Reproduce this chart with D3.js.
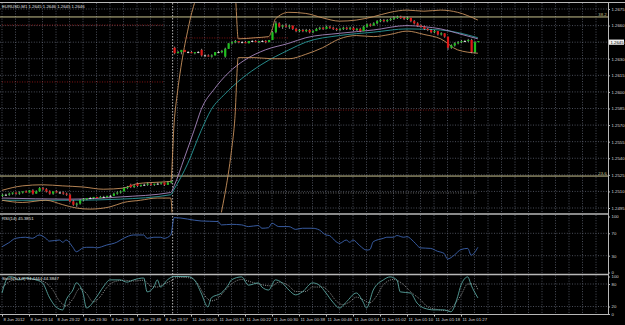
<!DOCTYPE html>
<html><head><meta charset="utf-8">
<script src="https://cdn.jsdelivr.net/npm/d3@7"></script>
<style>
html,body{margin:0;padding:0;background:#000;}
svg{display:block;}
text{font-family:"Liberation Sans",Arial,sans-serif;}
</style></head><body>
<svg id="chart" width="625" height="325"></svg>
<script>
// friday 8 Jun bars (index 0-50) and monday 11 Jun bars (index 51-141): [open, high, low, close]
const fridayBars = [
  [1.2506,1.2508,1.2505,1.2507],[1.2507,1.2508,1.2506,1.2507],[1.2507,1.2509,1.2506,1.2508],[1.2508,1.2509,1.2507,1.2509],
  [1.2509,1.2509,1.2507,1.2508],[1.2508,1.2510,1.2507,1.2509],[1.2509,1.2510,1.2508,1.2510],[1.2510,1.2511,1.2509,1.2509],
  [1.2509,1.2511,1.2509,1.2511],[1.2511,1.2512,1.2507,1.2508],[1.2508,1.2511,1.2508,1.2510],[1.2510,1.2514,1.2510,1.2513],
  [1.2513,1.2514,1.2511,1.2512],[1.2512,1.2513,1.2509,1.2510],[1.2510,1.2511,1.2507,1.2508],[1.2508,1.2510,1.2507,1.2510],
  [1.2510,1.2511,1.2509,1.2509],[1.2509,1.2510,1.2508,1.2509],[1.2509,1.2510,1.2507,1.2508],[1.2508,1.2509,1.2506,1.2507],
  [1.2507,1.2508,1.2500,1.2501],[1.2501,1.2502,1.2497,1.2498],[1.2498,1.2500,1.2496,1.2499],[1.2499,1.2503,1.2498,1.2502],
  [1.2502,1.2504,1.2501,1.2503],[1.2503,1.2504,1.2502,1.2504],[1.2504,1.2505,1.2503,1.2504],[1.2504,1.2505,1.2503,1.2505],
  [1.2505,1.2505,1.2504,1.2504],[1.2504,1.2506,1.2504,1.2505],[1.2505,1.2506,1.2504,1.2505],[1.2505,1.2506,1.2504,1.2506],
  [1.2506,1.2507,1.2505,1.2506],[1.2506,1.2509,1.2506,1.2508],[1.2508,1.2510,1.2507,1.2509],[1.2509,1.2511,1.2508,1.2510],
  [1.2510,1.2514,1.2510,1.2513],[1.2513,1.2515,1.2512,1.2514],[1.2516,1.2517,1.2513,1.2514],[1.2514,1.2516,1.2513,1.2515],
  [1.2517,1.2518,1.2514,1.2515],[1.2515,1.2516,1.2514,1.2516],[1.2516,1.2517,1.2515,1.2516],[1.2516,1.2518,1.2515,1.2517],
  [1.2517,1.2518,1.2515,1.2516],[1.2516,1.2517,1.2515,1.2517],[1.2517,1.2518,1.2516,1.2517],[1.2517,1.2518,1.2516,1.2518],
  [1.2518,1.2518,1.2515,1.2516],[1.2516,1.2519,1.2516,1.2518],[1.2518,1.2520,1.2517,1.2519]
]
const mondayBars = [
  [1.2640,1.2641,1.2634,1.2635],[1.2635,1.2637,1.2635,1.2636],[1.2636,1.2638,1.2634,1.2638],[1.2638,1.2638,1.2636,1.2636],
  [1.2636,1.2637,1.2635,1.2636],[1.2636,1.2637,1.2635,1.2635],[1.2635,1.2636,1.2634,1.2636],[1.2636,1.2637,1.2635,1.2636],
  [1.2638,1.2639,1.2632,1.2633],[1.2633,1.2634,1.2632,1.2633],[1.2633,1.2634,1.2632,1.2632],[1.2632,1.2634,1.2631,1.2633],
  [1.2633,1.2636,1.2633,1.2636],[1.2636,1.2637,1.2635,1.2636],[1.2636,1.2638,1.2635,1.2637],[1.2632,1.2640,1.2631,1.2639],
  [1.2639,1.2644,1.2639,1.2644],[1.2644,1.2646,1.2643,1.2645],[1.2645,1.2647,1.2644,1.2646],[1.2646,1.2646,1.2644,1.2645],
  [1.2645,1.2646,1.2644,1.2645],[1.2645,1.2646,1.2644,1.2644],[1.2644,1.2646,1.2644,1.2646],[1.2646,1.2647,1.2645,1.2646],
  [1.2646,1.2647,1.2645,1.2645],[1.2645,1.2646,1.2644,1.2646],[1.2646,1.2647,1.2645,1.2646],[1.2646,1.2647,1.2644,1.2645],
  [1.2645,1.2647,1.2645,1.2647],[1.2647,1.2655,1.2647,1.2654],[1.2654,1.2664,1.2653,1.2662],[1.2662,1.2663,1.2658,1.2659],
  [1.2659,1.2661,1.2657,1.2660],[1.2660,1.2662,1.2658,1.2659],[1.2659,1.2661,1.2657,1.2660],[1.2660,1.2660,1.2656,1.2657],
  [1.2657,1.2658,1.2654,1.2655],[1.2655,1.2657,1.2654,1.2656],[1.2656,1.2657,1.2654,1.2655],[1.2655,1.2657,1.2654,1.2656],
  [1.2656,1.2657,1.2653,1.2654],[1.2654,1.2656,1.2653,1.2655],[1.2655,1.2658,1.2655,1.2657],[1.2657,1.2659,1.2656,1.2658],
  [1.2658,1.2659,1.2656,1.2657],[1.2657,1.2660,1.2657,1.2659],[1.2659,1.2660,1.2657,1.2658],[1.2658,1.2659,1.2656,1.2657],
  [1.2657,1.2658,1.2655,1.2656],[1.2656,1.2658,1.2655,1.2657],[1.2657,1.2659,1.2656,1.2658],[1.2658,1.2659,1.2656,1.2657],
  [1.2657,1.2659,1.2656,1.2658],[1.2658,1.2659,1.2655,1.2656],[1.2656,1.2658,1.2655,1.2657],[1.2657,1.2658,1.2654,1.2655],
  [1.2655,1.2660,1.2655,1.2659],[1.2659,1.2662,1.2658,1.2661],[1.2661,1.2662,1.2659,1.2660],[1.2660,1.2663,1.2660,1.2662],
  [1.2662,1.2665,1.2661,1.2664],[1.2664,1.2666,1.2663,1.2665],[1.2665,1.2666,1.2663,1.2664],[1.2664,1.2666,1.2663,1.2665],
  [1.2665,1.2667,1.2664,1.2666],[1.2666,1.2668,1.2665,1.2667],[1.2667,1.2669,1.2666,1.2668],[1.2668,1.2669,1.2666,1.2667],
  [1.2667,1.2668,1.2665,1.2666],[1.2666,1.2668,1.2665,1.2667],[1.2667,1.2667,1.2663,1.2664],[1.2664,1.2665,1.2661,1.2662],
  [1.2662,1.2663,1.2659,1.2660],[1.2660,1.2661,1.2658,1.2659],[1.2659,1.2660,1.2656,1.2657],[1.2657,1.2658,1.2655,1.2656],
  [1.2656,1.2657,1.2653,1.2654],[1.2654,1.2656,1.2653,1.2655],[1.2655,1.2655,1.2651,1.2652],[1.2652,1.2654,1.2651,1.2653],
  [1.2653,1.2653,1.2649,1.2650],[1.2650,1.2650,1.2638,1.2640],[1.2640,1.2643,1.2639,1.2642],[1.2642,1.2645,1.2641,1.2644],
  [1.2644,1.2646,1.2643,1.2645],[1.2645,1.2647,1.2644,1.2646],[1.2646,1.2647,1.2645,1.2646],[1.2646,1.2648,1.2645,1.2647],
  [1.2647,1.2648,1.2635,1.2636],[1.2636,1.2646,1.2635,1.2645],[1.2645,1.2646,1.2645,1.2646]
]

// indicator lines: [bar index, price]
const bbUpper = [[0,1.2511],[6,1.2515],[12,1.2516],[18,1.2515],[24,1.2514],[30,1.2512],[36,1.2513],[40,1.2517],[44,1.2518],[50,1.2519],
  [51,1.2572],[52,1.2600],[53,1.2622],[54,1.2640],[55,1.2655],[56,1.2669],[57,1.2680],[58,1.2690],[62,1.2700],[66,1.2700],[69,1.2691],
  [70,1.2648],[75,1.2649],[79,1.2650],[80,1.2656],[81,1.2666],[85,1.2672],[90,1.2671],[95,1.2667],[100,1.2664],[105,1.2665],
  [110,1.2668],[115,1.2672],[120,1.2674],[125,1.2673],[130,1.2674],[135,1.2672],[141,1.2665]]
const bbLower = [[0,1.2502],[6,1.2500],[13,1.2502],[18,1.2498],[22,1.2495],[26,1.2494],[32,1.2496],[36,1.2500],[41,1.2502],[46,1.2504],[50,1.2504],
  [51,1.2460],[60,1.2440],[65,1.2491],[66,1.2507],[67,1.2525],[68,1.2547],[69,1.2576],[70,1.2631],[75,1.2631],[80,1.2630],[85,1.2630],
  [90,1.2634],[95,1.2640],[100,1.2648],[105,1.2651],[110,1.2650],[115,1.2652],[120,1.2655],[125,1.2652],[130,1.2648],[135,1.2638],[141,1.2635]]
const maPurple = [[0,1.2504],[20,1.2503],[35,1.2505],[50,1.2509],[51,1.2515],[54,1.2540],[57,1.2566],[59,1.2584],[63,1.2603],[67,1.2617],
  [72,1.2629],[78,1.2638],[85,1.2644],[90,1.2649],[100,1.2653],[110,1.2656],[120,1.2660],[125,1.2659],[130,1.2657],[135,1.2653],[141,1.2648]]
const maTeal = [[0,1.2502],[20,1.2502],[35,1.2503],[50,1.2507],[51,1.2512],[55,1.2535],[59,1.2565],[62,1.2584],[66,1.2598],[71,1.2612],
  [77,1.2625],[85,1.2638],[90,1.2645],[100,1.2651],[110,1.2654],[120,1.2657],[130,1.2656],[141,1.2649]]

// dotted horizontal levels: [from bar, to bar, price]
const redLevels = [[0,48,1.26605],[0,48,1.2609],[54,85,1.26488],[64,141,1.25836]]
const grayLevels = [[64,141,1.25086]]
const fibPrices = [1.26678, 1.25239]
const fibLabels = ['38.2', '23.6']

// RSI(14) and Stoch(5,3,3): [bar index, value]
const rsi = [[0,46],[2,53],[4,61],[7,63],[9,61],[11,67],[13,61],[14,56],[17,58],[18,54],[19,58],[21,45],[22,37],[24,44],[25,45],
  [27,45],[28,44],[31,49],[34,54],[36,61],[39,67],[42,67],[43,61],[45,63],[47,63],[48,61],[50,67],[51,98],[59,92],[64,91],[65,85],
  [68,86],[71,85],[73,82],[76,84],[77,79],[79,80],[80,88],[82,82],[85,82],[87,77],[89,79],[92,79],[94,76],[96,67],[97,66],[99,55],
  [100,52],[102,58],[103,54],[104,58],[106,48],[108,40],[109,41],[110,55],[113,61],[114,63],[116,63],[117,66],[119,63],[120,64],
  [122,55],[124,44],[127,43],[129,38],[131,34],[132,24],[134,31],[136,41],[138,43],[139,31],[141,45]]
const stochMain = [[0,56],[2,99],[3,99],[5,91],[7,96],[10,91],[12,83],[14,45],[16,19],[18,11],[19,37],[21,64],[22,83],[24,56],[25,16],
  [28,45],[30,72],[32,91],[35,91],[37,85],[39,91],[42,96],[43,59],[45,72],[46,91],[47,72],[49,91],[51,100],[55,100],[57,91],[59,56],
  [61,19],[62,43],[65,56],[67,77],[68,91],[71,99],[73,77],[76,83],[77,72],[79,64],[81,91],[83,83],[85,64],[87,51],[89,59],[92,83],
  [94,77],[96,56],[98,32],[100,16],[102,32],[105,56],[107,32],[108,16],[110,64],[113,91],[115,99],[117,91],[118,59],[121,56],[123,29],
  [125,16],[128,11],[131,11],[133,6],[135,46],[136,77],[138,99],[139,77],[141,43]]
const stochSignal = [[0,70],[3,90],[6,95],[9,93],[12,88],[15,65],[17,35],[19,22],[21,40],[23,68],[25,55],[27,32],[29,45],[31,70],
  [33,85],[36,90],[39,88],[42,90],[44,75],[46,72],[48,80],[50,88],[52,98],[56,96],[58,80],[60,50],[62,35],[64,42],[66,62],[68,80],
  [71,92],[74,85],[77,78],[80,75],[82,85],[85,75],[87,60],[90,60],[92,72],[95,72],[97,58],[99,35],[101,25],[103,32],[105,45],[107,38],
  [109,30],[111,48],[113,78],[116,92],[119,78],[121,60],[124,38],[126,20],[129,12],[132,9],[134,25],[136,50],[138,80],[140,80],[141,65]]

const priceTicks = [1.2675,1.2660,1.2645,1.2630,1.2615,1.2600,1.2585,1.2570,1.2555,1.2540,1.2525,1.2510,1.2495]
const rsiTicks = [100, 70, 30, 0]
const stochTicks = [100, 80, 20, 0]
const timeIdx = [0,8,16,24,32,40,48,56,64,72,80,88,96,104,112,120,128,136]
const timeLabels = ['8 Jun 2012','8 Jun 23:14','8 Jun 23:22','8 Jun 23:30','8 Jun 23:39','8 Jun 23:49','8 Jun 23:57',
  '11 Jun 00:05','11 Jun 00:13','11 Jun 00:22','11 Jun 00:30','11 Jun 00:38','11 Jun 00:46','11 Jun 00:54','11 Jun 01:02',
  '11 Jun 01:10','11 Jun 01:18','11 Jun 01:27']
const mondayStart = 51
const bidPrice = 1.2645

const RIGHT = 608
const x = d3.scaleLinear([0, 141], [2, 477.875])
const yMain = d3.scaleLinear([1.2495, 1.2675], [208, 9])
const yRsi = d3.scaleLinear([0, 100], [272.5, 216.5])
const yStoch = d3.scaleLinear([0, 100], [314, 276.5])

const svg = d3.select('#chart')
svg.append('rect').attr('width', 625).attr('height', 325).attr('fill', '#000')

const panels = [
  {id: 'clipMain', top: 3, bottom: 212.5},
  {id: 'clipRsi', top: 215, bottom: 273},
  {id: 'clipStoch', top: 275.5, bottom: 314}
]
const defs = svg.append('defs')
panels.forEach(p => {
  defs.append('clipPath').attr('id', p.id)
    .append('rect').attr('x', 0).attr('y', p.top).attr('width', RIGHT).attr('height', p.bottom - p.top)
})

// grid
const gridX = d3.range(0, 180, 4)
const grid = svg.append('g').attr('stroke', '#6a7080').attr('stroke-width', 0.7).attr('stroke-dasharray', '1,1.6')
panels.forEach(p => {
  grid.append('g').selectAll('line').data(gridX).join('line')
    .attr('x1', d => x(d)).attr('x2', d => x(d)).attr('y1', p.top).attr('y2', p.bottom)
})
grid.append('g').selectAll('line').data(priceTicks).join('line')
  .attr('x1', 0).attr('x2', RIGHT).attr('y1', d => yMain(d)).attr('y2', d => yMain(d))
grid.append('g').selectAll('line').data([70, 30]).join('line')
  .attr('x1', 0).attr('x2', RIGHT).attr('y1', d => yRsi(d)).attr('y2', d => yRsi(d))
grid.append('g').selectAll('line').data([80, 20]).join('line')
  .attr('x1', 0).attr('x2', RIGHT).attr('y1', d => yStoch(d)).attr('y2', d => yStoch(d))

// period separator
svg.append('line')
  .attr('x1', x(mondayStart) - 1.5).attr('x2', x(mondayStart) - 1.5).attr('y1', 3).attr('y2', 314)
  .attr('stroke', '#e0e0e0').attr('stroke-width', 0.8).attr('stroke-dasharray', '1.5,1.5')

const main = svg.append('g').attr('clip-path', 'url(#clipMain)')

// horizontal levels
const drawLevels = (data, color) => main.append('g').selectAll('line').data(data).join('line')
  .attr('x1', d => x(d[0])).attr('x2', d => x(d[1])).attr('y1', d => yMain(d[2])).attr('y2', d => yMain(d[2]))
  .attr('stroke', color).attr('stroke-width', 0.8).attr('stroke-dasharray', '1,1.5')
drawLevels(redLevels, '#a01818')
drawLevels(grayLevels, '#808080')
main.append('g').selectAll('line').data(fibPrices).join('line')
  .attr('x1', 0).attr('x2', RIGHT).attr('y1', d => yMain(d)).attr('y2', d => yMain(d))
  .attr('stroke', '#c8c28e').attr('stroke-width', 1)
svg.append('g').selectAll('text').data(fibPrices).join('text')
  .attr('x', RIGHT - 1.5).attr('y', d => yMain(d) - 1).attr('text-anchor', 'end')
  .attr('font-size', 4.2).attr('fill', '#c8c28e').text((d, i) => fibLabels[i])

const drawMain = (data, color, w) => main.append('path').datum(data)
  .attr('d', d3.line().x(d => x(d[0])).y(d => yMain(d[1])).curve(d3.curveMonotoneX))
  .attr('fill', 'none').attr('stroke', color).attr('stroke-width', w)
drawMain(maTeal, '#2a9a9a', 0.9)
drawMain(maPurple, '#a888c0', 0.9)
drawMain(bbUpper, '#c8925e', 0.9)
drawMain(bbLower, '#c8925e', 0.9)

// candles
const candles = fridayBars.concat(mondayBars).map((b, i) => ({i, o: b[0], h: b[1], l: b[2], c: b[3]}))
main.append('g').selectAll('line').data(candles).join('line')
  .attr('x1', d => x(d.i) + 0.5).attr('x2', d => x(d.i) + 0.5)
  .attr('y1', d => yMain(d.h)).attr('y2', d => yMain(d.l))
  .attr('stroke', '#c8c8c8').attr('stroke-width', 0.7)
main.append('g').selectAll('rect').data(candles).join('rect')
  .attr('x', d => x(d.i) - 0.6).attr('width', 2.2)
  .attr('y', d => yMain(Math.max(d.o, d.c)))
  .attr('height', d => Math.max(0.9, Math.abs(yMain(d.o) - yMain(d.c))))
  .attr('fill', d => d.c > d.o ? '#1fc01f' : d.c < d.o ? '#e01818' : '#e8e8e8')

// RSI
svg.append('g').attr('clip-path', 'url(#clipRsi)').append('path').datum(rsi)
  .attr('d', d3.line().x(d => x(d[0])).y(d => yRsi(d[1])).curve(d3.curveMonotoneX))
  .attr('fill', 'none').attr('stroke', '#3d64b0').attr('stroke-width', 0.9)

// Stochastic
const st = svg.append('g').attr('clip-path', 'url(#clipStoch)')
st.append('path').datum(stochSignal)
  .attr('d', d3.line().x(d => x(d[0])).y(d => yStoch(d[1])).curve(d3.curveMonotoneX))
  .attr('fill', 'none').attr('stroke', '#d0d0d0').attr('stroke-width', 0.7).attr('stroke-dasharray', '1,1.2')
st.append('path').datum(stochMain)
  .attr('d', d3.line().x(d => x(d[0])).y(d => yStoch(d[1])).curve(d3.curveMonotoneX))
  .attr('fill', 'none').attr('stroke', '#5aa6a0').attr('stroke-width', 0.9)

// frame
const frame = svg.append('g').attr('stroke', '#b8b8b8')
frame.append('line').attr('x1', 0).attr('x2', 625).attr('y1', 2.5).attr('y2', 2.5).attr('stroke-width', 1)
frame.append('line').attr('x1', 0).attr('x2', RIGHT).attr('y1', 214).attr('y2', 214).attr('stroke-width', 1.6)
frame.append('line').attr('x1', 0).attr('x2', RIGHT).attr('y1', 274.5).attr('y2', 274.5).attr('stroke-width', 1.6)
frame.append('line').attr('x1', 0).attr('x2', RIGHT).attr('y1', 314.5).attr('y2', 314.5).attr('stroke-width', 1)
frame.append('line').attr('x1', RIGHT + 0.5).attr('x2', RIGHT + 0.5).attr('y1', 2.5).attr('y2', 314.5).attr('stroke-width', 1)

// axes
const styleAxis = g => {
  g.select('.domain').remove()
  g.selectAll('line').attr('stroke', '#b8b8b8')
  g.selectAll('text').attr('fill', '#d8d8d8').attr('font-size', 4.3)
}
svg.append('g').attr('transform', `translate(${RIGHT},0)`)
  .call(d3.axisRight(yMain).tickValues(priceTicks).tickFormat(d3.format('.4f')).tickSize(2).tickPadding(1.5))
  .call(styleAxis)
svg.append('g').attr('transform', `translate(${RIGHT},0)`)
  .call(d3.axisRight(yRsi).tickValues(rsiTicks).tickSize(2).tickPadding(1.5))
  .call(styleAxis)
svg.append('g').attr('transform', `translate(${RIGHT},0)`)
  .call(d3.axisRight(yStoch).tickValues(stochTicks).tickSize(2).tickPadding(1.5))
  .call(styleAxis)
svg.append('g').attr('transform', 'translate(0,314.5)')
  .call(d3.axisBottom(x).tickValues(timeIdx).tickFormat((d, i) => timeLabels[i]).tickSize(2).tickPadding(1.5))
  .call(styleAxis)
  .selectAll('text').attr('text-anchor', 'start').attr('dx', 1)

// bid price tag
svg.append('rect').attr('x', RIGHT + 1).attr('y', yMain(bidPrice) - 2.6).attr('width', 15).attr('height', 5.2).attr('fill', '#f0f0f0')
svg.append('text').attr('x', RIGHT + 2.5).attr('y', yMain(bidPrice) + 1.5).attr('font-size', 4.3).attr('fill', '#000')
  .text(d3.format('.4f')(bidPrice))

// window titles
const titles = [['EURUSD,M1  1.2645 1.2646 1.2645 1.2646', 7.5], ['RSI(14) 45.3851', 219.5], ['Stoch(5,3,3) 94.4444 44.3847', 280]]
svg.append('g').selectAll('text').data(titles).join('text')
  .attr('x', 2).attr('y', d => d[1]).attr('font-size', 4.3).attr('fill', '#e0e0e0').text(d => d[0])
</script></body></html>
